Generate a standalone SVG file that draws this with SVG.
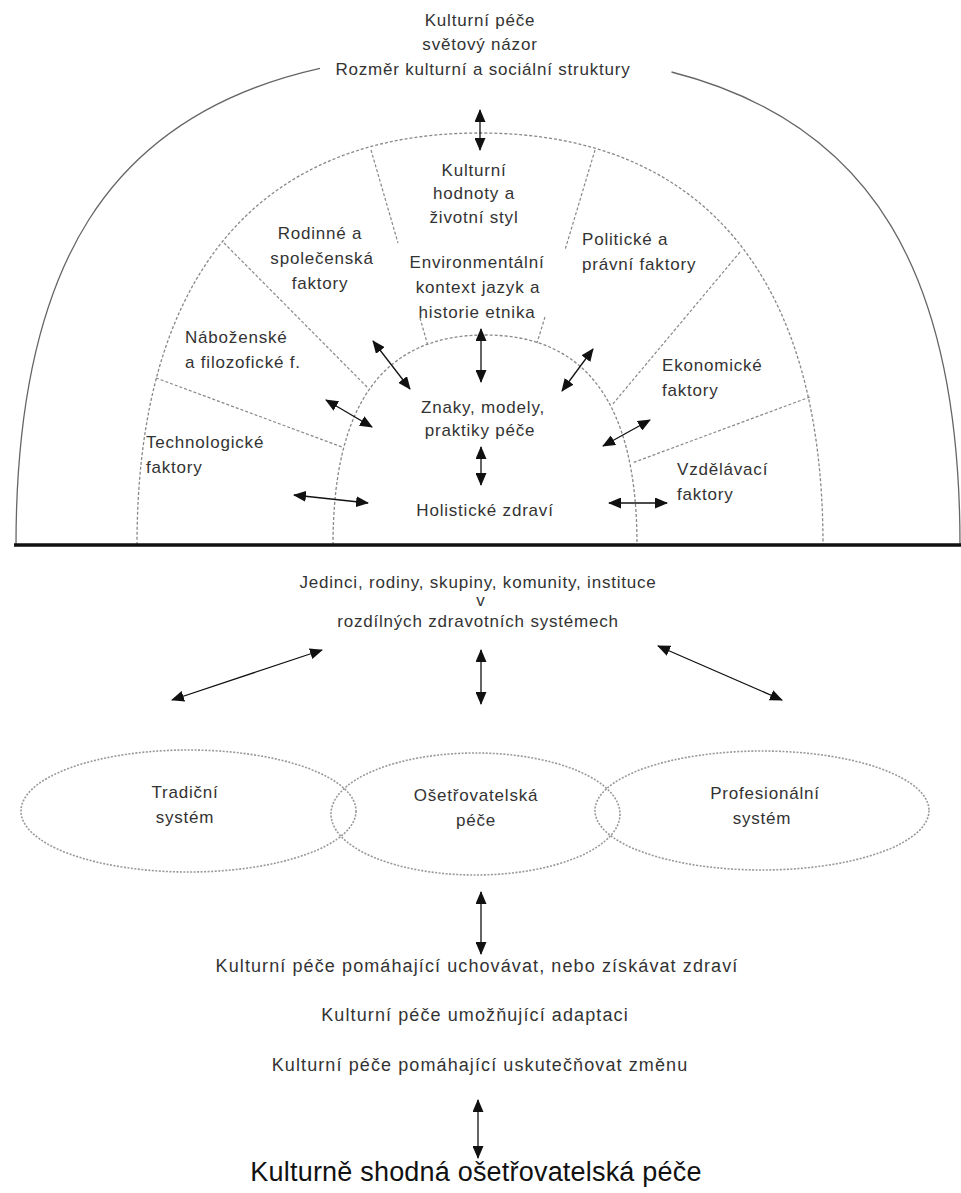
<svg xmlns="http://www.w3.org/2000/svg" width="961" height="1193" viewBox="0 0 961 1193">
<defs>
<style>
.t{font-family:"Liberation Sans",Arial,sans-serif;font-size:17px;letter-spacing:0.8px;fill:#333}
.m{text-anchor:middle}
.b{font-size:18px;letter-spacing:1.1px}
.ti{font-size:27px;letter-spacing:0.2px;fill:#111}
.outer{fill:none;stroke:#666;stroke-width:1.3}
.ring{fill:none;stroke:#888;stroke-width:1.3;stroke-dasharray:3 2}
.ray{fill:none;stroke:#888;stroke-width:1.2;stroke-dasharray:3 2}
.ell{fill:none;stroke:#999;stroke-width:1.6;stroke-dasharray:2 1.5}
.arr{fill:none;stroke:#111;stroke-width:1.3;marker-start:url(#ah);marker-end:url(#ah)}
</style>
<marker id="ah" markerUnits="userSpaceOnUse" markerWidth="13" markerHeight="11" refX="12" refY="5.5" orient="auto-start-reverse" viewBox="0 0 13 11">
<path d="M0,0 L13,5.5 L0,11 z" fill="#111"/>
</marker>
</defs>
<rect width="961" height="1193" fill="#fff"/>

<g id="rings">
<path class="outer" d="M16,545 C16,265.6 109.2,115.3 320,68.3"/>
<path class="outer" d="M960,545 C960,272.5 871.4,122.9 671.5,72"/>
<path class="ring" d="M137,545 C137,277.2 257,133 480,133 C703,133 823,277.2 823,545"/>
<path class="ring" d="M333,545 C333,404.3 383.2,335 485,335 C586.8,335 637,404.3 637,545"/>
<path class="ray" d="M156,378 L342,447"/>
<path class="ray" d="M224,243 L368,388"/>
<path class="ray" d="M371,150 L398,243"/>
<path class="ray" d="M420,318 L428,346"/>
<path class="ray" d="M595,150 L565,250"/>
<path class="ray" d="M545,317 L537,343"/>
<path class="ray" d="M740,252 L612,405"/>
<path class="ray" d="M810,397 L632,463"/>
<line x1="14" y1="545" x2="961" y2="545" stroke="#111" stroke-width="3.5"/>
</g>

<g id="n-top">
<text class="t m" x="480" y="26">Kulturní péče</text>
<text class="t m" x="480" y="50">světový názor</text>
<text class="t m" x="483" y="75">Rozměr kulturní a sociální struktury</text>
</g>
<g id="n-hodnoty">
<text class="t m" x="474" y="176">Kulturní</text>
<text class="t m" x="474" y="199">hodnoty a</text>
<text class="t m" x="474" y="223">životní styl</text>
</g>
<g id="n-rodinne">
<text class="t m" x="320" y="239">Rodinné a</text>
<text class="t m" x="322" y="264">společenská</text>
<text class="t m" x="320" y="289">faktory</text>
</g>
<g id="n-environment">
<text class="t m" x="477" y="268">Environmentální</text>
<text class="t m" x="478" y="293">kontext jazyk a</text>
<text class="t m" x="477" y="318">historie etnika</text>
</g>
<g id="n-politicke">
<text class="t" x="582" y="245">Politické a</text>
<text class="t" x="582" y="270">právní faktory</text>
</g>
<g id="n-nabozenske">
<text class="t" x="185" y="343">Náboženské</text>
<text class="t" x="185" y="368">a filozofické f.</text>
</g>
<g id="n-ekonomicke">
<text class="t" x="662" y="371">Ekonomické</text>
<text class="t" x="662" y="396">faktory</text>
</g>
<g id="n-technologicke">
<text class="t" x="146" y="448">Technologické</text>
<text class="t" x="146" y="473">faktory</text>
</g>
<g id="n-vzdelavaci">
<text class="t" x="677" y="475">Vzdělávací</text>
<text class="t" x="677" y="500">faktory</text>
</g>
<g id="n-znaky">
<text class="t m" x="483" y="413">Znaky, modely,</text>
<text class="t m" x="480" y="436">praktiky péče</text>
</g>
<g id="n-holisticke">
<text class="t m" x="485" y="516">Holistické zdraví</text>
</g>
<g id="n-jedinci">
<text class="t m" x="478" y="588">Jedinci, rodiny, skupiny, komunity, instituce</text>
<text class="t m" x="481" y="606">v</text>
<text class="t m" x="478" y="627">rozdílných zdravotních systémech</text>
</g>
<g id="n-tradicni">
<ellipse class="ell" cx="188.5" cy="811" rx="167.5" ry="61"/>
<text class="t m" x="185" y="798">Tradiční</text>
<text class="t m" x="185" y="823">systém</text>
</g>
<g id="n-osetrovatelska">
<ellipse class="ell" cx="475.5" cy="814" rx="144.5" ry="61"/>
<text class="t m" x="476" y="801">Ošetřovatelská</text>
<text class="t m" x="476" y="826">péče</text>
</g>
<g id="n-profesionalni">
<ellipse class="ell" cx="762" cy="810.5" rx="167" ry="59.5"/>
<text class="t m" x="765" y="799">Profesionální</text>
<text class="t m" x="762" y="824">systém</text>
</g>
<g id="n-pece">
<text class="t b m" x="477" y="972">Kulturní péče pomáhající uchovávat, nebo získávat zdraví</text>
<text class="t b m" x="475" y="1021">Kulturní péče umožňující adaptaci</text>
<text class="t b m" x="480" y="1071">Kulturní péče pomáhající uskutečňovat změnu</text>
</g>
<g id="n-shodna">
<text class="t ti m" x="476" y="1181">Kulturně shodná ošetřovatelská péče</text>
</g>

<g id="connectors">
<line class="arr" x1="480" y1="110" x2="480" y2="150"/>
<line class="arr" x1="481" y1="329" x2="481" y2="382"/>
<line class="arr" x1="481" y1="447" x2="481" y2="485"/>
<line class="arr" x1="373" y1="341" x2="410" y2="389"/>
<line class="arr" x1="326" y1="400" x2="372" y2="427"/>
<line class="arr" x1="294" y1="495" x2="368" y2="503"/>
<line class="arr" x1="593" y1="349" x2="562" y2="391"/>
<line class="arr" x1="650" y1="420" x2="603" y2="446"/>
<line class="arr" x1="609" y1="503" x2="667" y2="503"/>
<line class="arr" x1="322" y1="650" x2="172" y2="700"/>
<line class="arr" x1="481" y1="650" x2="481" y2="704"/>
<line class="arr" x1="658" y1="646" x2="782" y2="700"/>
<line class="arr" x1="481" y1="892" x2="481" y2="954"/>
<line class="arr" x1="478" y1="1100" x2="478" y2="1158"/>
</g>
</svg>
